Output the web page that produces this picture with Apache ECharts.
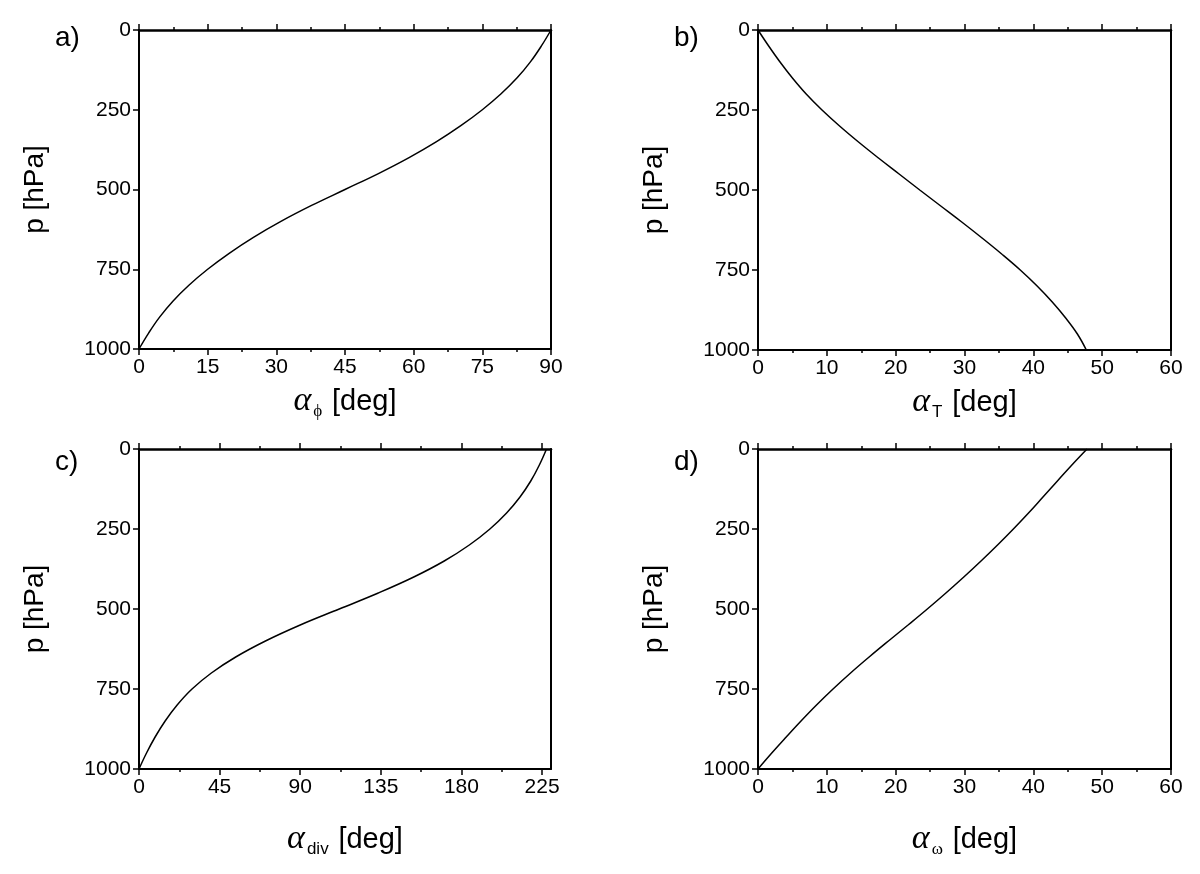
<!DOCTYPE html>
<html>
<head>
<meta charset="utf-8">
<script src="https://cdn.jsdelivr.net/npm/echarts@6/dist/echarts.min.js"></script>
<style>
html, body { margin: 0; padding: 0; background: #fff; }
#main { width: 1200px; height: 874px; }
</style>
</head>
<body>
<div id="main"></div>
<script>
// pressure levels (hPa), shared by the four profiles
var pLevels = [0, 50, 100, 150, 200, 250, 300, 350, 400, 450, 500,
               550, 600, 650, 700, 750, 800, 850, 900, 950, 1000];

// angles (deg)
var alphaPhi   = [90, 87.9, 85.5, 82.6, 79.1, 75.0, 70.3, 65.0, 59.0, 52.3, 45.0,
                  37.7, 31.0, 25.0, 19.7, 15.0, 10.9, 7.4, 4.5, 2.1, 0];
var alphaT     = [0, 1.55, 3.2, 5.0, 7.0, 9.3, 11.85, 14.6, 17.5, 20.5, 23.5,
                  26.55, 29.6, 32.55, 35.4, 38.1, 40.55, 42.75, 44.7, 46.4, 47.7];
var alphaDiv   = [227.5, 223.5, 218.7, 212.7, 205.2, 195.9, 184.4, 170.4, 153.4, 133.6, 111.8,
                  90.0, 70.6, 54.0, 40.4, 29.6, 21.3, 14.6, 9.0, 4.2, 0];
var alphaOmega = [47.8, 45.6, 43.5, 41.4, 39.3, 37.1, 34.8, 32.4, 29.9, 27.3, 24.6,
                  21.8, 18.95, 16.15, 13.45, 10.9, 8.5, 6.25, 4.1, 2.0, 0];

var pTicks = [0, 250, 500, 750, 1000];
var divTicks = [0, 45, 90, 135, 180, 225];

var panels = [
  { letter: 'a)', sub: 'ϕ', subFont: 'Liberation Serif', data: alphaPhi, max: 90, interval: 15,
    left: 139, top: 30, width: 412, height: 319, nameGap: 34 },
  { letter: 'b)', sub: 'T', subFont: 'Liberation Sans', data: alphaT, max: 60, interval: 10,
    left: 758, top: 30, width: 413, height: 320, nameGap: 34 },
  { letter: 'c)', sub: 'div', subFont: 'Liberation Sans', data: alphaDiv, max: 230, interval: 45,
    ticks: divTicks, left: 139, top: 449, width: 412, height: 320, nameGap: 52 },
  { letter: 'd)', sub: 'ω', subFont: 'Liberation Serif', data: alphaOmega, max: 60, interval: 10,
    left: 758, top: 449, width: 413, height: 320, nameGap: 52 }
];

var font = 'Liberation Sans';
var black = '#000';

function plain(v) { return String(v); }

var grids = [], xAxes = [], yAxes = [], series = [], graphics = [];

panels.forEach(function (pn, i) {
  grids.push({ left: pn.left, top: pn.top, width: pn.width, height: pn.height });

  var tick = { length: 6, lineStyle: { color: black, width: 1.5 } };
  var label = { color: black, fontSize: 21, fontFamily: font, margin: 8, formatter: plain };
  if (pn.ticks) {
    tick.customValues = pn.ticks;
    label.customValues = pn.ticks;
  }

  xAxes.push({
    type: 'value', gridIndex: i, position: 'bottom',
    min: 0, max: pn.max, interval: pn.interval,
    axisLine: { onZero: false, lineStyle: { color: black, width: 2 } },
    axisTick: tick,
    minorTick: { show: true, splitNumber: 2, length: 3, lineStyle: { color: black, width: 1.5 } },
    axisLabel: label,
    splitLine: { show: false },
    name: '{a|α}{s|' + pn.sub + '} {t|[deg]}',
    nameLocation: 'middle',
    nameGap: pn.nameGap,
    nameTextStyle: {
      color: black, fontFamily: font, fontSize: 28,
      rich: {
        a: { fontFamily: 'Liberation Serif', fontStyle: 'italic', fontSize: 34, color: black },
        s: { fontFamily: pn.subFont, fontSize: 17, color: black, verticalAlign: 'bottom', padding: [20, 2, 0, 2] },
        t: { fontFamily: font, fontSize: 29, color: black }
      }
    }
  });
  xAxes.push({
    type: 'value', gridIndex: i, position: 'top',
    min: 0, max: pn.max, interval: pn.interval,
    axisLine: { onZero: false, lineStyle: { color: black, width: 2.5 } },
    axisTick: tick,
    minorTick: { show: true, splitNumber: 2, length: 3, lineStyle: { color: black, width: 1.5 } },
    axisLabel: { show: false },
    splitLine: { show: false }
  });

  yAxes.push({
    type: 'value', gridIndex: i, position: 'left', inverse: true,
    min: 0, max: 1000, interval: 250,
    axisLine: { onZero: false, lineStyle: { color: black, width: 2 } },
    axisTick: { length: 6, lineStyle: { color: black, width: 1.5 } },
    axisLabel: { color: black, fontSize: 21, fontFamily: font, margin: 8, formatter: plain },
    splitLine: { show: false },
    name: 'p [hPa]',
    nameLocation: 'middle',
    nameGap: 90,
    nameTextStyle: { color: black, fontFamily: font, fontSize: 28 }
  });
  yAxes.push({
    type: 'value', gridIndex: i, position: 'right', inverse: true,
    min: 0, max: 1000, interval: 250,
    axisLine: { onZero: false, lineStyle: { color: black, width: 2 } },
    axisTick: { show: false },
    axisLabel: { show: false },
    splitLine: { show: false }
  });

  series.push({
    type: 'line',
    xAxisIndex: 2 * i,
    yAxisIndex: 2 * i,
    data: pLevels.map(function (p, k) { return [pn.data[k], p]; }),
    smooth: 0.4,
    showSymbol: false,
    lineStyle: { color: black, width: 1.5 }
  });

  graphics.push({
    type: 'text',
    left: pn.left - 84,
    top: pn.top - (i < 2 ? 6 : 1),
    style: { text: pn.letter, fill: black, font: '28px "Liberation Sans"' }
  });
});

var chart = echarts.init(document.getElementById('main'));
chart.setOption({
  animation: false,
  backgroundColor: '#fff',
  grid: grids,
  xAxis: xAxes,
  yAxis: yAxes,
  series: series,
  graphic: graphics
});
</script>
</body>
</html>
